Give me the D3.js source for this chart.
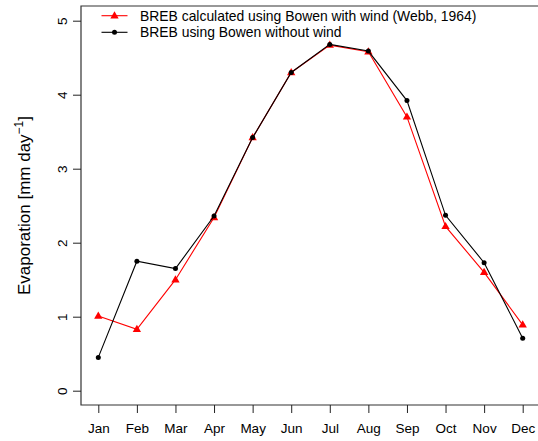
<!DOCTYPE html>
<html>
<head>
<meta charset="utf-8">
<script src="https://cdn.jsdelivr.net/npm/d3@7"></script>
<style>
  body { margin: 0; background: #fff; }
  text { font-family: "Liberation Sans", Arial, sans-serif; }
</style>
</head>
<body>
<div id="chart"></div>
<script>
var months = ["Jan", "Feb", "Mar", "Apr", "May", "Jun", "Jul", "Aug", "Sep", "Oct", "Nov", "Dec"];
var withWind = [1.01, 0.83, 1.50, 2.34, 3.42, 4.30, 4.67, 4.58, 3.70, 2.22, 1.60, 0.89];
var withoutWind = [0.45, 1.75, 1.65, 2.36, 3.42, 4.30, 4.68, 4.59, 3.92, 2.37, 1.73, 0.71];
var yTicks = [0, 1, 2, 3, 4, 5];
var legendLabels = ["BREB calculated using Bowen with wind (Webb, 1964)", "BREB using Bowen without wind"];

var W = 538, H = 441;
var plot = { left: 81, top: 6, right: 537, bottom: 405 };

var svg = d3.select("#chart").append("svg")
    .attr("width", W)
    .attr("height", H);

var x = d3.scalePoint()
    .domain(months)
    .range([98.3, 522.7]);

var y = d3.scaleLinear()
    .domain([0, 5])
    .range([390.7, 20.7]);

// frame (right edge falls outside the picture)
svg.append("path")
    .attr("d", "M" + W + "," + plot.top + "H" + plot.left + "V" + plot.bottom + "H" + W)
    .attr("fill", "none")
    .attr("stroke", "#333")
    .attr("stroke-width", 1.2);

// x axis
var xAxis = svg.append("g")
    .attr("transform", "translate(0," + plot.bottom + ")")
    .call(d3.axisBottom(x).tickSize(8).tickPadding(10));
xAxis.select(".domain").remove();
xAxis.selectAll("line").attr("stroke", "#222");
xAxis.selectAll("text")
    .attr("font-size", 13.5)
    .attr("fill", "#000")
    .attr("font-family", "Liberation Sans, Arial, sans-serif");

// y axis
var yAxis = svg.append("g")
    .attr("transform", "translate(" + plot.left + ",0)")
    .call(d3.axisLeft(y).tickValues(yTicks).tickSize(8).tickFormat(d3.format("d")));
yAxis.select(".domain").remove();
yAxis.selectAll("line").attr("stroke", "#222");
yAxis.selectAll("text")
    .attr("font-size", 13.5)
    .attr("fill", "#000")
    .attr("font-family", "Liberation Sans, Arial, sans-serif")
    .attr("text-anchor", "middle")
    .attr("x", null)
    .attr("transform", "translate(-19,0) rotate(-90)")
    .attr("y", 0)
    .attr("dy", "0.35em");

// y label
var yl = svg.append("text")
    .attr("transform", "translate(30," + ((plot.top + plot.bottom) / 2) + ") rotate(-90)")
    .attr("text-anchor", "middle")
    .attr("font-size", 17)
    .attr("fill", "#000");
yl.append("tspan").text("Evaporation [mm day");
yl.append("tspan").attr("font-size", 12).attr("dy", -7).text("\u22121");
yl.append("tspan").attr("dy", 7).text("]");

var line = d3.line()
    .x(function(d, i) { return x(months[i]); })
    .y(function(d) { return y(d); });

var tri = d3.symbol().type(d3.symbolTriangle).size(30);

// red series
svg.append("path")
    .datum(withWind)
    .attr("d", line)
    .attr("fill", "none")
    .attr("stroke", "#ff0000")
    .attr("stroke-width", 1.1);
svg.selectAll(".tri")
    .data(withWind)
    .enter().append("path")
    .attr("class", "tri")
    .attr("d", tri)
    .attr("transform", function(d, i) { return "translate(" + x(months[i]) + "," + (y(d) + 0.3) + ")"; })
    .attr("fill", "#ff0000");

// black series
svg.append("path")
    .datum(withoutWind)
    .attr("d", line)
    .attr("fill", "none")
    .attr("stroke", "#000")
    .attr("stroke-width", 1.1);
svg.selectAll(".dot")
    .data(withoutWind)
    .enter().append("circle")
    .attr("class", "dot")
    .attr("cx", function(d, i) { return x(months[i]); })
    .attr("cy", function(d) { return y(d); })
    .attr("r", 2.5)
    .attr("fill", "#000");

// legend
var legColors = ["#ff0000", "#000"];
var leg = svg.selectAll(".leg")
    .data(legendLabels)
    .enter().append("g")
    .attr("class", "leg")
    .attr("transform", function(d, i) { return "translate(0," + (15.7 + i * 16.6) + ")"; });
leg.append("line")
    .attr("x1", 101.5).attr("x2", 127.5)
    .attr("stroke", function(d, i) { return legColors[i]; })
    .attr("stroke-width", 1.1);
leg.each(function(d, i) {
  var g = d3.select(this);
  if (i === 0) {
    g.append("path").attr("d", tri).attr("transform", "translate(114.5,0.3)").attr("fill", legColors[i]);
  } else {
    g.append("circle").attr("cx", 114.5).attr("r", 2.5).attr("fill", legColors[i]);
  }
});
leg.append("text")
    .attr("x", 140)
    .attr("dy", "0.35em")
    .attr("font-size", 13.9)
    .attr("fill", "#000")
    .text(function(d) { return d; });
</script>
</body>
</html>
